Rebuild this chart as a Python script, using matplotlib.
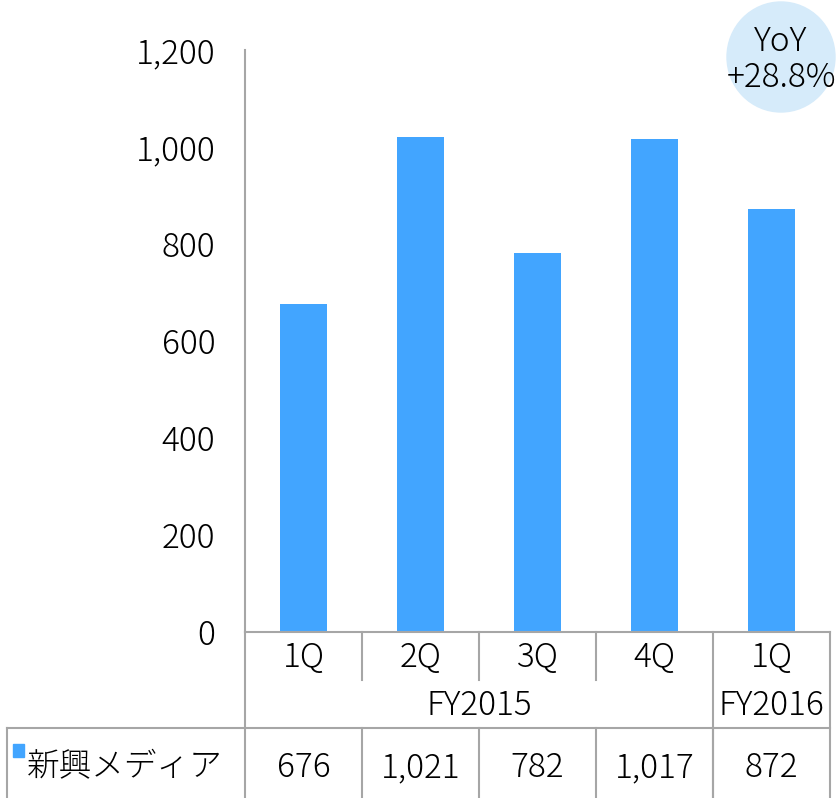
import matplotlib
matplotlib.use('Agg')
import matplotlib.pyplot as plt
from matplotlib.lines import Line2D
from matplotlib.patches import Ellipse, Rectangle

plt.rcParams['font.family'] = ['Noto Sans CJK JP', 'DejaVu Sans']
plt.rcParams['font.weight'] = 'light'

# data
quarters = ['1Q', '2Q', '3Q', '4Q', '1Q']
years = ['FY2015', 'FY2016']
year_span = [4, 1]
series_name = '新興メディア'
values = [676, 1021, 782, 1017, 872]
yticks = [0, 200, 400, 600, 800, 1000, 1200]
yoy_text = 'YoY\n+28.8%'

W, H = 840, 798
bar_color = '#42A5FF'
line_color = '#A6A6A6'
fs = 24


def fx(x):
    return x / W


def fy(y):
    return 1 - y / H


fig = plt.figure(figsize=(8.4, 7.98), dpi=100)

# plot area in pixels
left, right, top, base = 245, 830, 50, 632
ax = fig.add_axes([fx(left), fy(base), fx(right - left), (base - top) / H])
pos = list(range(len(values)))
ax.bar(pos, values, width=0.41, color=bar_color)
ax.set_xlim(-0.5, len(values) - 0.5)
ax.set_ylim(0, 1200)
ax.set_yticks(yticks)
ax.set_yticklabels(['{:,}'.format(v) for v in yticks], fontsize=fs)
ax.tick_params(axis='y', length=0, pad=21.5)
ax.set_xticks([])
for s in ['top', 'right']:
    ax.spines[s].set_visible(False)
for s in ['left', 'bottom']:
    ax.spines[s].set_color(line_color)
    ax.spines[s].set_linewidth(1.5)


def hline(x0, x1, y):
    fig.add_artist(Line2D([fx(x0), fx(x1)], [fy(y), fy(y)], color=line_color,
                          lw=1.5, transform=fig.transFigure))


def vline(x, y0, y1):
    fig.add_artist(Line2D([fx(x), fx(x)], [fy(y0), fy(y1)], color=line_color,
                          lw=1.5, transform=fig.transFigure))


# table grid
cw = (right - left) / len(values)
r_q, r_fy, r_val, r_end = 632, 680, 728, 798
vline(left, r_q, r_end)
vline(right, r_q, r_end)
vline(7, r_val, r_end)
hline(7, right, r_val)
col = 0
for span in year_span:
    for k in range(1, span):
        vline(left + (col + k) * cw, r_q, r_fy)
    col += span
    if col < len(values):
        vline(left + col * cw, r_q, r_end)
for k in range(1, len(values)):
    vline(left + k * cw, r_val, r_end)

# table text
for i, q in enumerate(quarters):
    cx = left + (i + 0.5) * cw
    fig.text(fx(cx), fy(658), q, ha='center', va='center', fontsize=fs)
    fig.text(fx(cx), fy(768), '{:,}'.format(values[i]), ha='center',
             va='center', fontsize=fs)
col = 0
for yr, span in zip(years, year_span):
    cx = left + (col + span / 2) * cw
    fig.text(fx(cx), fy(706), yr, ha='center', va='center', fontsize=fs)
    col += span

fig.add_artist(Rectangle((fx(13), fy(757)), 11 / W, 13 / H, color=bar_color,
                         transform=fig.transFigure))
fig.text(fx(27), fy(767), series_name, ha='left', va='center', fontsize=23.5)

# YoY bubble
fig.add_artist(Ellipse((fx(781), fy(57)), 108 / W, 110 / H, color='#D6EBFA',
                       transform=fig.transFigure))
fig.text(fx(781), fy(60), yoy_text, ha='center', va='center', fontsize=fs,
         linespacing=1.05)

fig.savefig('out.png', dpi=100)
